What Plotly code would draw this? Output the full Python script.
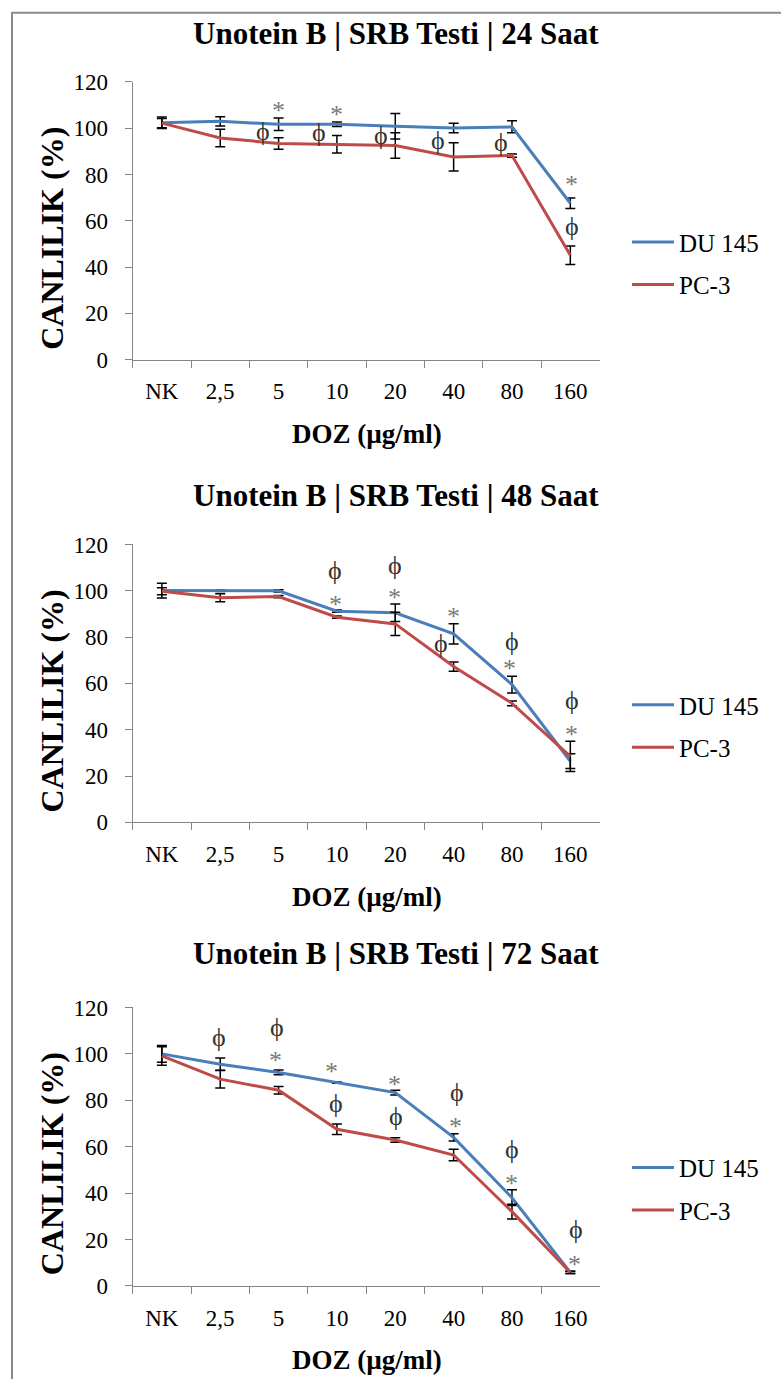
import plotly.graph_objects as go

W, H = 781, 1392

categories = ["NK", "2,5", "5", "10", "20", "40", "80", "160"]
titles = ["Unotein B | SRB Testi | 24 Saat",
          "Unotein B | SRB Testi | 48 Saat",
          "Unotein B | SRB Testi | 72 Saat"]
y_title = "CANLILIK (%)"
x_title = "DOZ (µg/ml)"
series_names = ["DU 145", "PC-3"]

# 24 h
du145_24 = [102.4, 103.0, 101.7, 101.7, 100.9, 100.1, 100.6, 67.6]
du145_24_err = [2.5, 2.0, 2.7, 1.0, 5.5, 2.0, 2.6, 2.3]
pc3_24 = [102.2, 95.8, 93.4, 93.1, 92.5, 87.6, 88.2, 45.1]
pc3_24_err = [2.0, 3.8, 2.5, 3.8, 5.5, 6.1, 0.7, 4.0]
star_24_x = [2.0, 3.0, 7.02]
star_24_y = [110.0, 108.0, 78.0]
phi_24_x = [1.73, 2.69, 3.75, 4.73, 5.81, 7.03]
phi_24_y = [98.4, 98.0, 97.0, 94.8, 94.0, 57.6]

# 48 h
du145_48 = [100.1, 100.0, 100.0, 91.2, 90.5, 81.4, 59.5, 26.4]
du145_48_err = [3.2, 0.3, 0.5, 0.5, 3.8, 4.4, 3.6, 3.2]
pc3_48 = [99.8, 97.0, 97.5, 88.6, 85.7, 67.3, 51.4, 28.5]
pc3_48_err = [1.5, 1.7, 0.5, 0.5, 5.0, 2.0, 1.0, 6.5]
star_48_x = [2.97, 3.99, 4.99, 5.95, 7.02]
star_48_y = [96.3, 99.4, 91.2, 68.4, 40.0]
phi_48_x = [2.97, 3.99, 4.78, 6.0, 7.03]
phi_48_y = [108.8, 111.0, 77.4, 78.2, 52.6]

# 72 h
du145_72 = [100.0, 95.5, 92.0, 87.6, 83.3, 64.0, 38.0, 5.8]
du145_72_err = [3.6, 2.7, 1.0, 0.3, 1.0, 1.6, 3.4, 0.5]
pc3_72 = [99.1, 89.1, 84.3, 67.5, 62.9, 56.4, 32.0, 5.8]
pc3_72_err = [4.0, 3.8, 1.6, 2.3, 1.0, 2.5, 3.2, 0.5]
star_72_x = [1.95, 2.91, 3.98, 5.04, 5.99, 7.08]
star_72_y = [99.1, 94.4, 89.1, 70.8, 46.3, 11.5]
phi_72_x = [0.98, 1.97, 2.99, 4.01, 5.06, 6.0, 7.09]
phi_72_y = [107.0, 111.4, 78.7, 73.0, 83.3, 58.9, 24.4]

panels = [
    (du145_24, du145_24_err, pc3_24, pc3_24_err, star_24_x, star_24_y, phi_24_x, phi_24_y),
    (du145_48, du145_48_err, pc3_48, pc3_48_err, star_48_x, star_48_y, phi_48_x, phi_48_y),
    (du145_72, du145_72_err, pc3_72, pc3_72_err, star_72_x, star_72_y, phi_72_x, phi_72_y),
]

BLUE = "#4A7EBB"
RED = "#BE4B48"
AXIS = "#868686"
FONT = "Liberation Serif, Tinos, Times New Roman, DejaVu Serif, serif"

# the photographed page maps layout rows to picture rows as
# row_pic = 0.9815 * row_layout + 11.8 ; invert it for layout positions
def py(p):  # wanted picture row -> paper fraction
    r = (p - 11.8) / 0.9815
    return 1 - r / H

def px(p):
    return p / W

# pixel geometry of each panel (row of value 0, row of value 120)
geo = [(359.3, 81.7), (821.7, 544.0), (1285.0, 1006.7)]
x0, x1 = 132.7, 599.5
title_y = [33, 495, 953]

fig = go.Figure()
annotations = []
for i, (d, de, p, pe, sx, sy, fx, fy) in enumerate(panels):
    n = "" if i == 0 else str(i + 1)
    xa, ya = "x" + n, "y" + n
    lg = "legend" + n
    fig.add_trace(go.Scatter(
        x=categories, y=d, name=series_names[0], mode="lines",
        line=dict(color=BLUE, width=3),
        error_y=dict(type="data", array=de, color="black", thickness=1.5, width=5),
        xaxis=xa, yaxis=ya, legend=lg, legendgroup="a" + n))
    fig.add_trace(go.Scatter(
        x=categories, y=p, name=series_names[1], mode="lines",
        line=dict(color=RED, width=3),
        error_y=dict(type="data", array=pe, color="black", thickness=1.5, width=5),
        xaxis=xa, yaxis=ya, legend=lg, legendgroup="b" + n))

    y0p, y120p = geo[i]
    fig.layout["xaxis" + n] = dict(
        domain=[px(x0), px(x1)], anchor=ya, type="category",
        range=[-0.5, 7.5], tickson="boundaries", ticks="outside", ticklen=7,
        tickcolor=AXIS, showline=True, linecolor=AXIS, linewidth=1,
        showgrid=False, zeroline=False, ticklabelstandoff=11,
        tickfont=dict(family=FONT, size=23, color="black"))
    fig.layout["yaxis" + n] = dict(
        domain=[py(y0p), py(y120p)], anchor=xa, range=[0, 120], dtick=20,
        ticks="outside", ticklen=7, tickcolor=AXIS, showline=True,
        linecolor=AXIS, linewidth=1, showgrid=False, zeroline=False,
        ticklabelstandoff=12,
        tickfont=dict(family=FONT, size=23, color="black"))

    mid = (243 + 283) / 2 + i * 462.5
    fig.layout[lg] = dict(
        x=px(627), y=py(mid), xanchor="left", yanchor="middle",
        font=dict(family=FONT, size=25, color="black"),
        bgcolor="rgba(0,0,0,0)", tracegroupgap=7, itemwidth=42)

    off = i * 462.4
    annotations.append(dict(text=titles[i], x=px(396), y=py(title_y[i]),
                            xref="paper", yref="paper", showarrow=False,
                            xanchor="center", yanchor="middle",
                            font=dict(family=FONT, size=31, color="black", weight="bold")))
    annotations.append(dict(text=y_title, x=px(52), y=py(238.5 + off), textangle=-90,
                            xref="paper", yref="paper", showarrow=False,
                            xanchor="center", yanchor="middle",
                            font=dict(family=FONT, size=32, color="black", weight="bold")))
    annotations.append(dict(text=x_title, x=px(367), y=py(434 + off),
                            xref="paper", yref="paper", showarrow=False,
                            xanchor="center", yanchor="middle",
                            font=dict(family=FONT, size=27, color="black", weight="bold")))
    for xx, yy in zip(sx, sy):
        annotations.append(dict(text="*", x=xx, y=yy, xref=xa, yref=ya,
                                showarrow=False, xanchor="center", yanchor="middle",
                                yshift=-5,
                                font=dict(family=FONT, size=26, color="#7a7a7a")))
    for xx, yy in zip(fx, fy):
        annotations.append(dict(text="ϕ", x=xx, y=yy, xref=xa, yref=ya,
                                showarrow=False, xanchor="center", yanchor="middle",
                                font=dict(family=FONT, size=26, color="#333333")))

fig.update_layout(
    width=W, height=H, margin=dict(l=0, r=0, t=0, b=0),
    paper_bgcolor="white", plot_bgcolor="white",
    annotations=annotations,
    shapes=[
        dict(type="line", xref="paper", yref="paper", x0=px(12), x1=px(12),
             y0=0, y1=1, line=dict(color="#8a8a8a", width=2)),
        dict(type="line", xref="paper", yref="paper", x0=px(12), x1=1,
             y0=0.9995, y1=0.9995, line=dict(color="#8a8a8a", width=2)),
    ],
)

fig.write_html(
    "out.html",
    config={"displayModeBar": False},
    post_script=(
        "document.documentElement.style.margin='0';"
        "document.body.style.margin='0';document.body.style.padding='0';"
        "document.body.style.overflow='hidden';"
        "var gd=document.getElementById('{plot_id}');"
        "gd.style.position='fixed';gd.style.top='0px';gd.style.left='0px';"
    ),
)
